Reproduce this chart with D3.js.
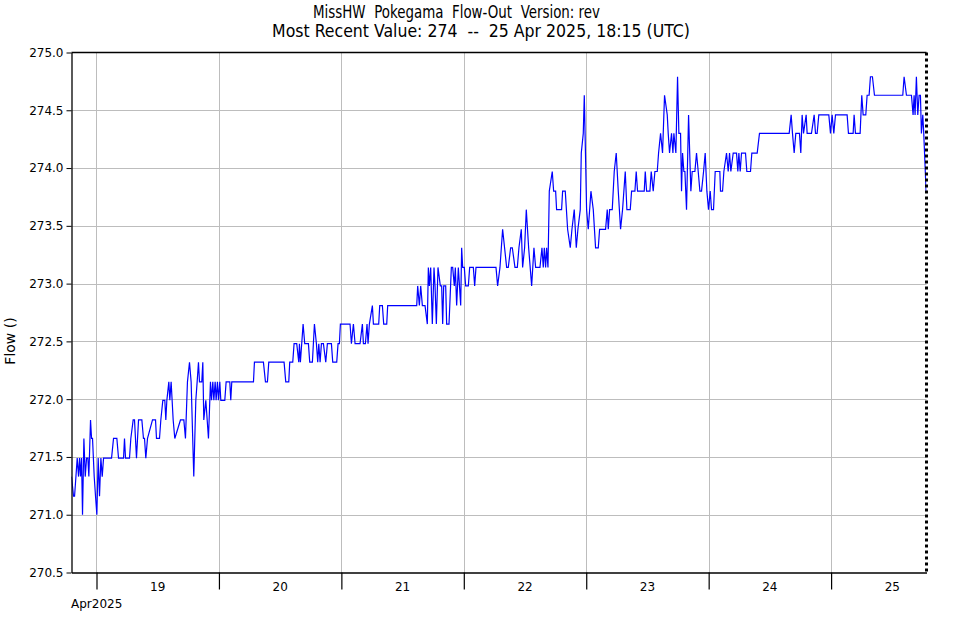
<!DOCTYPE html>
<html><head><meta charset="utf-8">
<script src="https://cdn.jsdelivr.net/npm/d3@7"></script>
<style>
body{margin:0;background:#fff}
svg{display:block}
text{font-family:"DejaVu Sans",Verdana,sans-serif;fill:#000}
.title{font-family:"DejaVu Sans Condensed","DejaVu Sans",sans-serif;font-stretch:condensed;white-space:pre}
</style>
</head><body>
<svg id="chart" width="961" height="620"></svg>
<script>
// ---------------- data ----------------
const titleLines = ["MissHW  Pokegama  Flow-Out  Version: rev",
                    "Most Recent Value: 274  --  25 Apr 2025, 18:15 (UTC)"];
const yAxisLabel = "Flow ()";
const yTicks = [270.5, 271.0, 271.5, 272.0, 272.5, 273.0, 273.5, 274.0, 274.5, 275.0];
const dayLabels = ["19", "20", "21", "22", "23", "24", "25"];
const monthLabel = "Apr2025";
// hours since 2025-04-18 00:00 UTC
const hours = [
19.10,19.50,19.70,20.22,20.48,20.68,20.87,21.07,21.26,21.53,21.79,22.05,22.31,22.50,22.83,23.03,23.22,23.55,23.81,24.07,
24.33,24.59,24.86,25.12,25.38,26.95,27.34,27.99,28.32,29.30,29.49,29.69,30.47,30.73,31.19,31.45,31.84,32.24,32.89,33.21,
33.41,33.67,34.00,34.98,35.57,35.76,36.35,36.61,37.00,37.39,37.59,37.79,38.18,38.37,38.63,39.03,39.35,40.46,41.12,41.44,
41.83,42.23,42.55,43.07,43.47,43.73,43.99,44.19,44.64,44.84,45.03,45.43,45.95,46.34,46.54,46.80,47.00,47.26,47.45,47.71,
47.91,48.17,48.37,49.15,49.41,50.13,50.32,50.52,
54.77,54.96,56.72,57.12,57.51,57.77,60.77,61.10,61.69,61.88,62.47,62.73,63.25,63.65,63.78,63.97,64.50,64.82,65.54,65.80,
66.32,66.72,67.11,67.37,67.57,67.83,68.09,68.48,68.94,69.26,70.05,70.31,71.09,71.35,71.61,71.81,73.70,73.97,74.36,74.69,
75.66,76.12,76.32,76.71,77.03,77.23,77.49,78.08,78.28,79.32,79.52,80.04,80.30,80.89,81.08,86.77,86.96,87.29,
87.55,87.88,88.40,88.85,89.05,89.25,89.51,89.83,90.16,90.36,90.62,90.94,91.40,91.66,91.86,92.06,92.45,92.64,93.10,93.56,
93.82,94.14,94.34,94.60,94.93,95.39,95.58,95.78,96.10,96.36,96.89,97.15,97.87,98.13,98.39,102.31,102.63,103.09,103.61,104.40,
104.72,105.18,105.51,106.03,106.49,106.81,107.27,107.53,107.92,108.25,108.71,109.30,109.75,110.08,110.93,111.32,111.58,111.78,112.04,112.23,
112.50,112.76,113.34,113.61,114.00,114.19,115.17,115.37,115.89,116.35,116.87,117.20,117.65,118.05,118.37,118.83,119.03,119.42,119.62,
120.07,120.40,120.92,121.38,121.83,122.36,122.62,123.79,124.12,124.32,124.58,125.10,125.49,125.88,126.28,126.73,127.12,127.65,127.97,128.63,
128.89,129.54,129.80,130.06,131.37,131.57,131.83,132.48,132.74,133.13,133.46,133.92,134.18,134.57,134.96,135.35,135.88,136.07,136.33,136.72,
136.99,137.18,137.57,137.90,138.16,138.49,138.68,138.88,139.14,139.34,139.66,140.06,140.51,140.77,141.30,141.62,141.95,142.28,142.60,143.00,
143.32,143.65,143.97,144.30,144.56,144.95,145.28,146.19,146.32,146.72,146.98,147.50,147.83,148.09,148.35,148.81,149.46,149.72,149.92,150.18,
150.44,151.22,151.48,152.20,152.46,153.51,153.96,
159.78,160.17,160.43,160.76,161.08,161.80,162.06,162.32,162.59,163.11,163.30,164.15,164.68,164.94,165.26,165.59,167.55,167.88,168.20,168.53,
168.86,171.14,171.40,172.32,172.51,172.77,173.69,174.01,174.28,174.80,175.06,175.45,175.71,176.10,176.50,182.05,182.31,182.77,183.75,184.07,
184.27,184.46,184.72,184.99,185.25,185.51,185.70,185.97,186.16,186.62
];
const flow = [
271.33,271.16,271.16,271.49,271.33,271.49,271.33,271.49,271.00,271.66,271.33,271.49,271.49,271.33,271.82,271.66,271.66,271.33,271.16,271.00,
271.49,271.16,271.49,271.33,271.49,271.49,271.66,271.66,271.49,271.49,271.66,271.49,271.49,271.66,271.82,271.82,271.49,271.82,271.82,271.66,
271.66,271.49,271.66,271.82,271.82,271.66,271.66,271.82,271.99,271.99,271.82,271.99,272.15,271.99,272.15,271.82,271.66,271.82,271.82,271.66,
272.15,272.32,272.15,271.33,271.99,272.15,272.32,272.15,272.15,272.32,271.82,271.99,271.66,272.15,271.99,272.15,271.99,272.15,271.99,272.15,
271.99,272.15,271.99,271.99,272.15,272.15,271.99,272.15,
272.15,272.32,272.32,272.15,272.15,272.32,272.32,272.15,272.15,272.32,272.32,272.48,272.48,272.32,272.48,272.32,272.65,272.48,272.48,272.32,
272.32,272.65,272.48,272.32,272.48,272.32,272.48,272.48,272.32,272.48,272.48,272.32,272.32,272.48,272.48,272.65,272.65,272.48,272.65,272.48,
272.48,272.65,272.48,272.48,272.65,272.48,272.65,272.81,272.65,272.65,272.81,272.81,272.65,272.65,272.81,272.81,272.98,272.81,
272.98,272.81,272.81,272.65,273.14,272.98,273.14,272.65,273.14,272.98,272.65,273.14,272.98,272.98,272.65,272.98,272.98,272.65,272.65,273.14,
273.14,272.98,273.14,272.81,273.14,272.81,273.31,273.14,273.14,272.98,272.98,273.14,273.14,272.98,273.14,273.14,272.98,273.14,273.47,273.14,
273.14,273.31,273.31,273.14,273.14,273.31,273.47,273.14,273.31,273.64,273.31,272.98,273.31,273.14,273.14,273.31,273.14,273.31,273.14,273.31,
273.14,273.80,273.97,273.80,273.80,273.64,273.64,273.80,273.80,273.47,273.31,273.47,273.64,273.31,273.47,273.64,274.13,274.30,274.63,
273.64,273.47,273.80,273.64,273.31,273.31,273.47,273.47,273.64,273.47,273.64,273.64,273.97,274.13,273.80,273.47,273.64,273.97,273.64,273.64,
273.80,273.80,273.97,273.80,273.80,273.97,273.80,273.80,273.97,273.80,273.97,273.97,274.13,274.30,274.13,274.63,274.46,274.30,274.13,274.30,
274.13,274.30,274.13,274.79,274.30,274.30,273.80,274.13,273.97,273.97,273.64,274.46,273.80,273.97,273.97,274.13,273.97,273.80,273.80,273.97,
274.13,273.80,273.64,273.80,273.64,273.64,273.97,273.97,273.80,273.80,273.97,274.13,273.97,274.13,273.97,274.13,274.13,273.97,274.13,273.97,
274.13,274.13,273.97,273.97,274.13,274.13,274.30,
274.30,274.46,274.30,274.13,274.30,274.30,274.13,274.46,274.30,274.46,274.30,274.30,274.46,274.30,274.30,274.46,274.46,274.30,274.46,274.30,
274.46,274.46,274.30,274.30,274.46,274.30,274.30,274.63,274.46,274.46,274.63,274.63,274.79,274.79,274.63,274.63,274.79,274.63,274.63,274.46,
274.63,274.46,274.79,274.46,274.63,274.63,274.30,274.46,274.30,273.80
];
const startHour = 19.1, endHour = 186.7;

// ---------------- drawing ----------------
const svg = d3.select("#chart");
const m = {l: 71.5, r: 926.5, t: 52.5, b: 572.5};
const base = Date.UTC(2025, 3, 18);
const toDate = h => new Date(base + h * 3600e3);
const data = hours.map((h, i) => ({t: toDate(h), v: flow[i]}));

const x = d3.scaleUtc().domain([toDate(startHour), toDate(endHour)]).range([m.l, m.r]);
const y = d3.scaleLinear().domain([yTicks[0], yTicks[yTicks.length - 1]]).range([m.b, m.t]);
const midnights = d3.utcDay.range(x.domain()[0], x.domain()[1]);

// grid
const grid = svg.append("g").attr("stroke", "#bdbdbd").attr("stroke-width", 1);
grid.selectAll(".gy").data(yTicks.slice(1, -1)).join("line")
  .attr("x1", m.l).attr("x2", m.r)
  .attr("y1", d => Math.round(y(d)) + 0.5).attr("y2", d => Math.round(y(d)) + 0.5);
grid.selectAll(".gx").data(midnights).join("line")
  .attr("x1", d => Math.round(x(d)) + 0.5).attr("x2", d => Math.round(x(d)) + 0.5)
  .attr("y1", m.t).attr("y2", m.b);

// line
svg.append("clipPath").attr("id", "clip").append("rect")
  .attr("x", m.l).attr("y", m.t).attr("width", m.r - m.l).attr("height", m.b - m.t);
svg.append("path").datum(data)
  .attr("clip-path", "url(#clip)")
  .attr("fill", "none").attr("stroke", "#0000ff").attr("stroke-width", 1.2)
  .attr("stroke-linejoin", "miter")
  .attr("d", d3.line().x(d => x(d.t)).y(d => y(d.v)));

// borders
svg.append("line").attr("x1", m.l).attr("x2", m.r).attr("y1", m.t).attr("y2", m.t)
  .attr("stroke", "#000").attr("stroke-width", 1.3);
svg.append("line").attr("x1", m.r).attr("x2", m.r).attr("y1", m.t).attr("y2", m.b)
  .attr("stroke", "#000").attr("stroke-width", 3).attr("stroke-dasharray", "3,3");

// left axis
const yAxis = svg.append("g").attr("transform", `translate(${m.l},0)`)
  .call(d3.axisLeft(y).tickValues(yTicks).tickFormat(d3.format(".1f")).tickSize(5).tickSizeOuter(0).tickPadding(3));
yAxis.select(".domain").attr("stroke", "#000").attr("stroke-width", 1.3);
yAxis.selectAll("text").style("font-size", "12px").attr("font-family", null);

// bottom axis
const xAxis = svg.append("g").attr("transform", `translate(0,${m.b})`)
  .call(d3.axisBottom(x).tickValues(midnights).tickFormat("").tickSize(17).tickSizeOuter(0));
xAxis.select(".domain").attr("stroke", "#000").attr("stroke-width", 1.3);
xAxis.selectAll(".tick line").attr("stroke-width", 1.2);

// day labels at noon
svg.append("g").selectAll("text").data(midnights).join("text")
  .attr("x", d => x(d3.utcHour.offset(d, 12)))
  .attr("y", 591)
  .attr("text-anchor", "middle").style("font-size", "12px")
  .text((d, i) => dayLabels[i]);
svg.append("text").attr("x", m.l - 0.5).attr("y", 608).style("font-size", "12px").text(monthLabel);

// y label
svg.append("text").attr("transform", "translate(15,341) rotate(-90)")
  .attr("text-anchor", "middle").style("font-size", "14px").text(yAxisLabel);

// titles: same font size; second line sets the size, first line is fitted to its reference width
const t2 = svg.append("text").attr("class", "title").attr("text-anchor", "middle")
  .attr("x", 481).attr("y", 37).style("font-size", "15px").text(titleLines[1]);
const fs = Math.max(13, Math.min(19, 15 * 418 / t2.node().getComputedTextLength()));
t2.style("font-size", fs + "px");
svg.append("text").attr("class", "title").attr("text-anchor", "middle")
  .attr("x", 456.5).attr("y", 18).style("font-size", fs + "px")
  .attr("textLength", 287).attr("lengthAdjust", "spacingAndGlyphs")
  .text(titleLines[0]);
</script>
</body></html>
